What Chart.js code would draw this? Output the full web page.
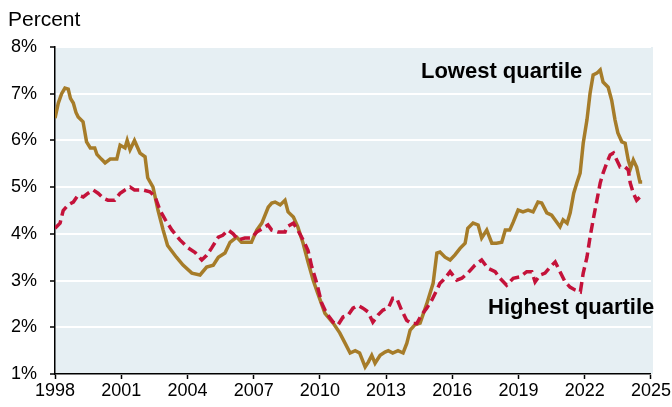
<!DOCTYPE html>
<html>
<head>
<meta charset="utf-8">
<script src="https://cdn.jsdelivr.net/npm/chart.js@4.4.1/dist/chart.umd.min.js"></script>
<style>
html,body{margin:0;padding:0;background:#fff;}
#wrap{width:672px;height:407px;position:relative;}
</style>
</head>
<body>
<div id="wrap"><canvas id="c" width="672" height="407"></canvas></div>
<script>
// Lowest quartile (x = decimal year, y = percent)
const lowYears = [1998.0,1998.15,1998.3,1998.45,1998.6,1998.7,1998.83,1998.95,1999.05,1999.27,1999.43,1999.6,1999.8,1999.9,2000.1,2000.27,2000.5,2000.8,2000.95,2001.17,2001.27,2001.4,2001.6,2001.85,2002.08,2002.2,2002.44,2002.67,2002.9,2003.1,2003.5,2003.8,2004.2,2004.57,2004.87,2005.17,2005.4,2005.7,2005.93,2006.23,2006.45,2006.9,2007.14,2007.37,2007.66,2007.82,2007.97,2008.2,2008.42,2008.56,2008.8,2009.0,2009.24,2009.46,2009.7,2009.9,2010.23,2010.6,2010.9,2011.14,2011.37,2011.6,2011.8,2012.05,2012.2,2012.35,2012.5,2012.73,2012.95,2013.1,2013.3,2013.54,2013.77,2013.94,2014.09,2014.3,2014.54,2014.84,2015.13,2015.3,2015.44,2015.67,2015.9,2016.12,2016.35,2016.58,2016.7,2016.94,2017.17,2017.33,2017.56,2017.79,2018.0,2018.24,2018.4,2018.6,2018.76,2018.98,2019.2,2019.43,2019.66,2019.88,2020.05,2020.28,2020.5,2020.65,2020.88,2021.02,2021.2,2021.34,2021.5,2021.64,2021.79,2021.93,2022.1,2022.24,2022.38,2022.55,2022.7,2022.83,2023.06,2023.22,2023.37,2023.5,2023.68,2023.83,2023.97,2024.08,2024.2,2024.35,2024.5,2024.6];
const lowValues = [6.48,6.8,7.0,7.12,7.1,6.9,6.8,6.6,6.5,6.4,5.97,5.84,5.84,5.7,5.6,5.52,5.6,5.6,5.9,5.84,6.0,5.8,6.0,5.73,5.65,5.2,5.0,4.5,4.08,3.75,3.5,3.33,3.16,3.12,3.29,3.33,3.5,3.59,3.82,3.93,3.82,3.82,4.08,4.23,4.57,4.66,4.68,4.62,4.72,4.47,4.36,4.15,3.8,3.4,3.0,2.73,2.3,2.09,1.88,1.66,1.45,1.5,1.45,1.15,1.26,1.4,1.23,1.4,1.47,1.5,1.45,1.5,1.45,1.66,1.94,2.05,2.09,2.5,2.94,3.59,3.61,3.5,3.44,3.55,3.69,3.8,4.12,4.23,4.19,3.91,4.08,3.8,3.8,3.82,4.08,4.08,4.25,4.51,4.47,4.51,4.47,4.68,4.66,4.45,4.4,4.3,4.15,4.3,4.23,4.45,4.87,5.09,5.3,5.94,6.44,7.01,7.4,7.44,7.51,7.25,7.14,6.86,6.44,6.16,5.97,5.94,5.58,5.41,5.58,5.43,5.11,5.11];

// Highest quartile
const highYears = [1998.0,1998.23,1998.37,1998.6,1998.83,1999.05,1999.28,1999.5,1999.73,1999.95,2000.2,2000.4,2000.7,2000.95,2001.17,2001.4,2001.6,2001.98,2002.3,2002.53,2002.76,2003.0,2003.3,2003.66,2004.03,2004.35,2004.65,2004.87,2005.1,2005.4,2005.6,2005.85,2006.07,2006.3,2006.6,2006.9,2007.14,2007.42,2007.65,2007.82,2008.1,2008.42,2008.5,2008.8,2009.0,2009.24,2009.46,2009.63,2009.86,2010.08,2010.3,2010.6,2010.82,2011.05,2011.28,2011.5,2011.73,2011.95,2012.18,2012.4,2012.63,2012.86,2013.1,2013.3,2013.48,2013.7,2013.93,2014.16,2014.39,2014.6,2014.84,2015.07,2015.3,2015.44,2015.67,2015.9,2016.2,2016.43,2016.7,2017.03,2017.33,2017.62,2017.94,2018.16,2018.46,2018.76,2019.07,2019.37,2019.6,2019.75,2019.98,2020.2,2020.43,2020.66,2020.88,2021.1,2021.33,2021.56,2021.8,2021.93,2022.1,2022.24,2022.38,2022.55,2022.7,2022.83,2023.0,2023.15,2023.3,2023.45,2023.6,2023.83,2023.97,2024.06,2024.2,2024.35,2024.5,2024.6];
const highValues = [4.12,4.23,4.5,4.62,4.68,4.83,4.79,4.87,4.94,4.87,4.76,4.72,4.72,4.87,4.94,5.0,4.94,4.94,4.9,4.8,4.5,4.3,4.08,3.87,3.7,3.6,3.44,3.54,3.7,3.93,3.97,4.08,4.0,3.87,3.91,3.91,4.04,4.12,4.19,4.08,4.04,4.04,4.15,4.23,4.08,3.87,3.65,3.3,2.94,2.52,2.3,2.11,2.05,2.22,2.26,2.41,2.47,2.41,2.33,2.11,2.26,2.37,2.41,2.62,2.62,2.37,2.15,2.08,2.08,2.26,2.41,2.58,2.8,2.94,3.05,3.19,3.01,3.05,3.16,3.33,3.44,3.26,3.19,3.05,2.9,3.05,3.08,3.19,3.19,2.97,3.12,3.16,3.29,3.4,3.19,2.98,2.86,2.8,2.76,3.16,3.5,3.93,4.3,4.72,5.09,5.3,5.52,5.69,5.73,5.58,5.43,5.43,5.37,5.09,4.87,4.72,4.79,4.83];

const xTickValues = [1998,2001,2004,2007,2010,2013,2016,2019,2022,2025];
const yTickValues = [1,2,3,4,5,6,7,8];
const seriesLabels = ['Lowest quartile','Highest quartile'];
const unitLabel = 'Percent';

const FONT = "'Liberation Sans', Arial, Helvetica, sans-serif";
const GOLD = '#A67C29';
const RED = '#C4123A';

const toPts = (xs, ys) => xs.map((x, i) => ({x: x, y: ys[i]}));

const bgPlugin = {
  id: 'bg',
  beforeDraw(chart) {
    const {ctx, chartArea: a} = chart;
    ctx.save();
    ctx.fillStyle = '#E6EFF3';
    ctx.fillRect(a.left, a.top, a.right - a.left + 2, a.bottom - a.top);
    ctx.restore();
  }
};

const textPlugin = {
  id: 'texts',
  afterDraw(chart) {
    const {ctx, scales} = chart;
    ctx.save();
    ctx.fillStyle = '#000';
    ctx.textBaseline = 'alphabetic';
    ctx.textAlign = 'left';
    ctx.font = '21px ' + FONT;
    ctx.fillText(unitLabel, 8, 26);
    ctx.font = 'bold 22px ' + FONT;
    ctx.fillText(seriesLabels[0], scales.x.getPixelForValue(2014.58), scales.y.getPixelForValue(7.336));
    ctx.fillText(seriesLabels[1], scales.x.getPixelForValue(2017.62), scales.y.getPixelForValue(2.283));
    ctx.restore();
  }
};

new Chart(document.getElementById('c'), {
  type: 'line',
  data: {
    datasets: [
      {
        label: seriesLabels[1],
        data: toPts(highYears, highValues),
        borderColor: RED,
        borderWidth: 3.5,
        borderDash: [10, 5],
        pointRadius: 0,
        tension: 0,
        fill: false
      },
      {
        label: seriesLabels[0],
        data: toPts(lowYears, lowValues),
        borderColor: GOLD,
        borderWidth: 3.5,
        pointRadius: 0,
        tension: 0,
        fill: false
      }
    ]
  },
  options: {
    responsive: false,
    animation: false,
    devicePixelRatio: 1,
    layout: {padding: {left: 0, top: 47, right: 21, bottom: 0}},
    plugins: {legend: {display: false}, tooltip: {enabled: false}, title: {display: false}},
    scales: {
      x: {
        type: 'linear',
        min: 1998, max: 2025,
        afterBuildTicks: (s) => { s.ticks = xTickValues.map(v => ({value: v})); },
        afterFit: (s) => { s.height = 33; },
        ticks: {
          autoSkip: false, maxRotation: 0, padding: 1,
          color: '#000',
          font: {family: FONT, size: 18},
          callback: (v) => String(v)
        },
        grid: {drawOnChartArea: false, drawTicks: true, tickLength: 5, tickColor: '#000', tickWidth: 1.5},
        border: {display: true, color: '#000', width: 1.5}
      },
      y: {
        min: 1, max: 8,
        afterBuildTicks: (s) => { s.ticks = yTickValues.map(v => ({value: v})); },
        afterFit: (s) => { s.width = 55; },
        ticks: {
          padding: 13,
          color: '#000',
          font: {family: FONT, size: 18},
          callback: (v) => v + '%'
        },
        grid: {color: '#FFFFFF', lineWidth: 2, drawTicks: true, tickLength: 5, tickColor: '#000', tickWidth: 1.5},
        border: {display: true, color: '#000', width: 1.5}
      }
    }
  },
  plugins: [bgPlugin, textPlugin]
});
</script>
</body>
</html>
